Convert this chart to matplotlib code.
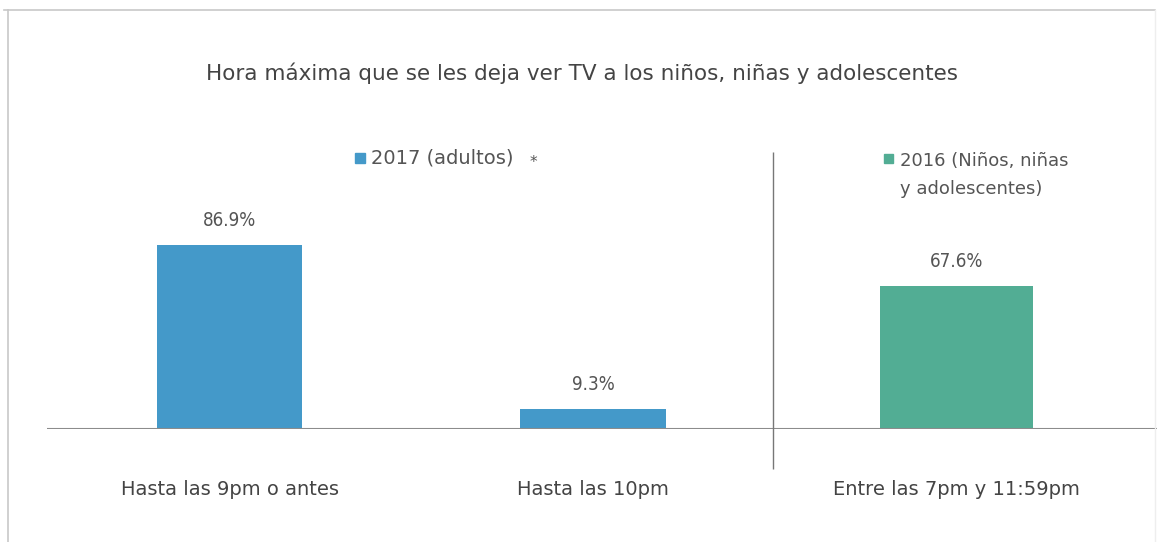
import matplotlib.pyplot as plt
from matplotlib.patches import Rectangle
from matplotlib.lines import Line2D

categories = ["Hasta las 9pm o antes", "Hasta las 10pm", "Entre las 7pm y 11:59pm"]
values = [86.9, 9.3, 67.6]
value_labels = ["86.9%", "9.3%", "67.6%"]
series = ["2017 (adultos)", "2017 (adultos)", "2016 (Niños, niñas\ny adolescentes)"]

blue = "#4499c9"
green = "#52ad94"
colors = [blue, blue, green]
text_col = "#555555"

plt.rcParams['font.family'] = ['DejaVu Sans']

W, H = 1157, 542
fig = plt.figure(figsize=(W / 100, H / 100), dpi=100)

# outer frame of the original card
fig.add_artist(Line2D([8 / W, 8 / W], [0, 1 - 10 / H], color="#c8c8c8", lw=1.2))
fig.add_artist(Line2D([4 / W, 1155 / W], [1 - 10 / H, 1 - 10 / H], color="#c8c8c8", lw=1.2))
fig.add_artist(Line2D([1155 / W, 1155 / W], [0, 1 - 10 / H], color="#eeeeee", lw=1))

# axes: baseline at y=429px, 2.12 px per percent
base_y = 429
ppu = 2.12
top_units = 100
ax = fig.add_axes([47 / W, 1 - base_y / H, 1 - 47 / W, top_units * ppu / H])
ax.set_ylim(0, top_units)
spacing = 363.5
ax.set_xlim(-(229.5 - 47) / spacing, -(229.5 - 47) / spacing + (W - 47) / spacing)

x = list(range(len(categories)))
ax.bar(x, values, width=[0.40, 0.40, 0.42], color=colors)
for xi, v, lab in zip(x, values, value_labels):
    ax.text(xi, v + 7, lab, ha="center", va="bottom", fontsize=13.5, color=text_col,
            fontstretch="condensed")
for xi, c in zip(x, categories):
    ax.text(xi, -28.5, c, ha="center", va="center", fontsize=14, color="#444444", clip_on=False)

ax.axhline(0, color="#8c8c8c", lw=1.5)
ax.vlines(1.495, -19, 130.5, color="#777777", lw=1, clip_on=False)

for s in ax.spines.values():
    s.set_visible(False)
ax.set_xticks([])
ax.set_yticks([])
ax.patch.set_alpha(0)

# title
fig.text(582 / W, 1 - 73 / H, "Hora máxima que se les deja ver TV a los niños, niñas y adolescentes",
         ha="center", va="center", fontsize=15.5, color="#444444")

# legend entries
fig.add_artist(Rectangle((355 / W, 1 - 163 / H), 10 / W, 10 / H, color=blue, transform=fig.transFigure))
fig.text(371 / W, 1 - 158 / H, series[0], ha="left", va="center", fontsize=14, color=text_col)
fig.text(533 / W, 1 - 163 / H, "*", ha="center", va="center", fontsize=11, color=text_col)
fig.add_artist(Rectangle((884 / W, 1 - 163 / H), 9 / W, 9 / H, color=green, transform=fig.transFigure))
fig.text(900 / W, 1 - 175 / H, series[2], ha="left", va="center", fontsize=13, color=text_col,
         linespacing=1.65)

fig.savefig("out.png", dpi=100)
